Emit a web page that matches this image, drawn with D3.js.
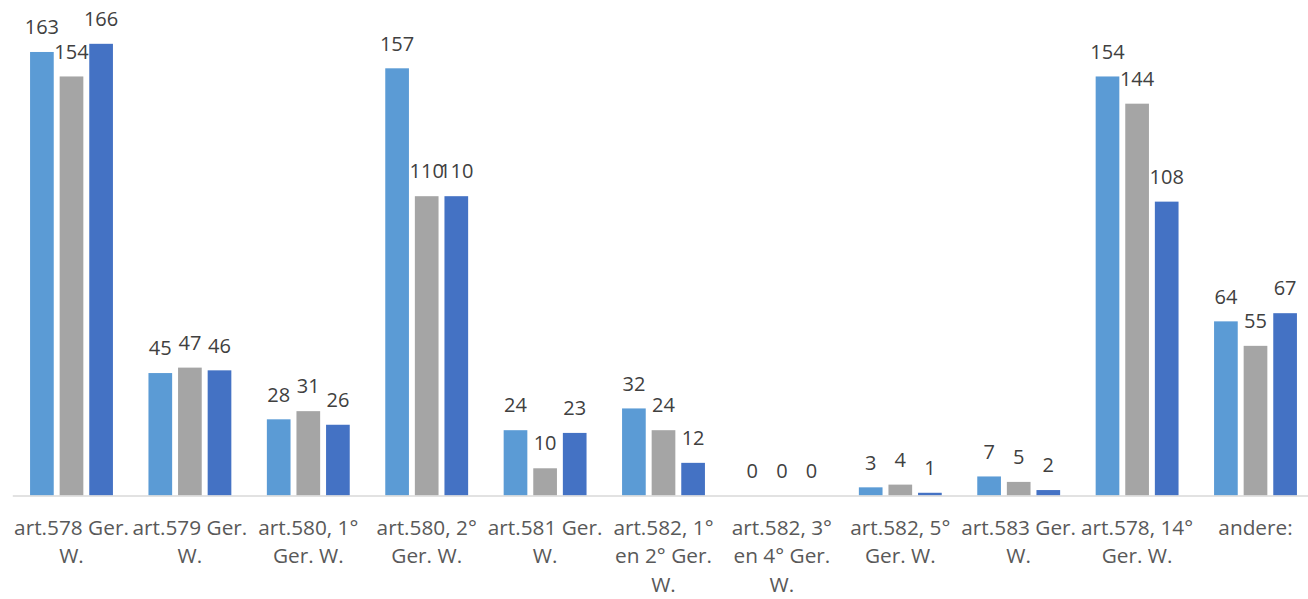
<!DOCTYPE html>
<html>
<head>
<meta charset="utf-8">
<script src="https://cdn.jsdelivr.net/npm/d3@7"></script>
<style>
  html, body { margin: 0; padding: 0; background: #ffffff; }
  svg { display: block; }
</style>
</head>
<body>
<svg id="chart" width="1308" height="599"></svg>
<script>
const categories = [
  "art.578 Ger. W.", "art.579 Ger. W.", "art.580, 1° Ger. W.", "art.580, 2° Ger. W.",
  "art.581 Ger. W.", "art.582, 1° en 2° Ger. W.", "art.582, 3° en 4° Ger. W.",
  "art.582, 5° Ger. W.", "art.583 Ger. W.", "art.578, 14° Ger. W.", "andere:"
];
const tickLabels = [
  ["art.578 Ger.", "W."], ["art.579 Ger.", "W."], ["art.580, 1°", "Ger. W."],
  ["art.580, 2°", "Ger. W."], ["art.581 Ger.", "W."], ["art.582, 1°", "en 2° Ger.", "W."],
  ["art.582, 3°", "en 4° Ger.", "W."], ["art.582, 5°", "Ger. W."], ["art.583 Ger.", "W."],
  ["art.578, 14°", "Ger. W."], ["andere:"]
];
const seriesNames = ["Reeks1", "Reeks2", "Reeks3"];
const series1 = [163, 45, 28, 157, 24, 32, 0, 3, 7, 154, 64];
const series2 = [154, 47, 31, 110, 10, 24, 0, 4, 5, 144, 55];
const series3 = [166, 46, 26, 110, 23, 12, 0, 1, 2, 108, 67];
const seriesColors = ["#5B9BD5", "#A5A5A5", "#4472C4"];

const allSeries = [series1, series2, series3];

const svg = d3.select("#chart");
const baseY = 495.5;
const pxPerUnit = 2.721;

const x = d3.scaleBand()
  .domain(categories)
  .range([12.3, 12.3 + 11 * 118.4])
  .paddingInner(0.3)
  .paddingOuter(0.15);

const xSub = d3.scaleBand()
  .domain(seriesNames)
  .range([0, x.bandwidth()])
  .paddingInner(0.2);

const y = d3.scaleLinear()
  .domain([0, 180])
  .range([baseY, baseY - 180 * pxPerUnit]);

const data = [];
categories.forEach((c, i) => {
  seriesNames.forEach((s, j) => {
    data.push({ cat: c, ser: s, value: allSeries[j][i], color: seriesColors[j] });
  });
});

// bars
svg.append("g").selectAll("rect")
  .data(data)
  .join("rect")
  .attr("x", d => x(d.cat) + xSub(d.ser))
  .attr("y", d => y(d.value))
  .attr("width", xSub.bandwidth())
  .attr("height", d => y(0) - y(d.value))
  .attr("fill", d => d.color);

// axis
const axis = svg.append("g")
  .attr("transform", `translate(0,${baseY})`)
  .call(d3.axisBottom(x).tickSize(0).tickSizeOuter(0).tickFormat(""));
axis.select(".domain").attr("stroke", "#d9d9d9").attr("stroke-width", 1.6);

axis.selectAll(".tick").each(function(d, i) {
  const t = d3.select(this).append("text")
    .attr("fill", "#595959")
    .attr("font-family", "'Open Sans', sans-serif")
    .attr("font-size", "20.8px")
    .attr("text-anchor", "middle");
  tickLabels[i].forEach((line, k) => {
    t.append("tspan").attr("x", 0).attr("y", 39 + k * 28.5).text(line);
  });
});

// data labels
svg.append("g").selectAll("text")
  .data(data)
  .join("text")
  .attr("x", d => x(d.cat) + xSub(d.ser) + xSub.bandwidth() / 2)
  .attr("y", d => y(d.value) - 17.8)
  .attr("text-anchor", "middle")
  .attr("fill", "#404040")
  .attr("font-family", "'Open Sans', sans-serif")
  .attr("font-size", "20px")
  .text(d => d.value);
</script>
</body>
</html>
